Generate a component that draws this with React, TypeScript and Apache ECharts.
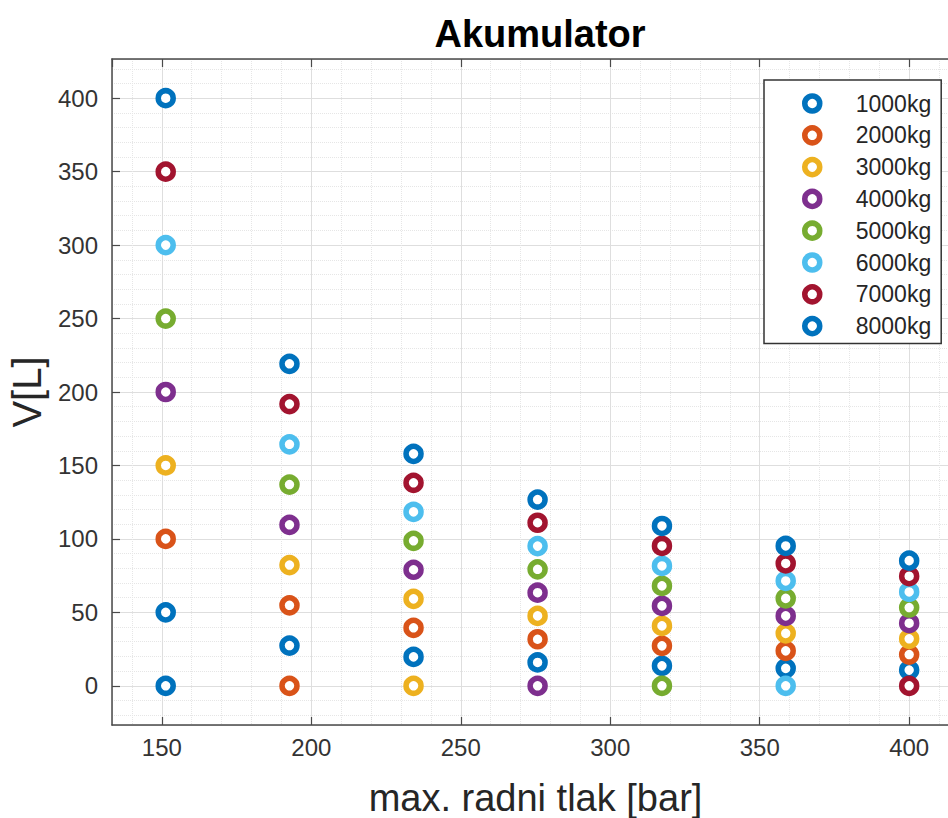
import React, { useEffect, useRef } from "react";
import * as echarts from "echarts";

const pressures = [151.3, 192.7, 234.2, 275.7, 317.3, 358.7, 400.0];
const seriesNames = ["1000kg", "2000kg", "3000kg", "4000kg", "5000kg", "6000kg", "7000kg", "8000kg"];
const v1000 = [50, 27.4, 19.7, 15.9, 13.6, 11.9, 10.7];
const v2000 = [100, 54.8, 39.5, 31.7, 27.2, 23.8, 21.3];
const v3000 = [150, 82.2, 59.2, 47.6, 40.8, 35.7, 32.0];
const v4000 = [200, 109.6, 79.0, 63.4, 54.4, 47.6, 42.6];
const v5000 = [250, 137.0, 98.7, 79.3, 68.0, 59.5, 53.3];
const v6000 = [300, 164.4, 118.4, 95.1, 81.6, 71.4, 63.9];
const v7000 = [350, 191.8, 138.2, 111.0, 95.2, 83.3, 74.6];
const v8000 = [400, 219.2, 157.9, 126.8, 108.8, 95.2, 85.2];
const seriesValues = [v1000, v2000, v3000, v4000, v5000, v6000, v7000, v8000];
// zero-volume point drawn by each series at this pressure index (-1 = none)
const zeroPointIndex = [0, 1, 2, 3, 4, 5, 6, -1];
const colors = ["#0072BD", "#D95319", "#EDB120", "#7E2F8E", "#77AC30", "#4DBEEE", "#A2142F", "#0072BD"];

const FONT = "'Liberation Sans', Arial, Helvetica, sans-serif";
const AXIS_COLOR = "#4a4a4a";
const RING = 5.5;

export default function App() {
  const ref = useRef<HTMLDivElement>(null);
  useEffect(() => {
    if (!ref.current) return;
    const chart = echarts.init(ref.current, undefined, { renderer: "svg" });
    const fmt = (v: number) => (Math.abs(v % 50) < 1e-6 ? String(Math.round(v)) : "");
    const xCommon = {
      type: "value" as const,
      min: 133.33,
      max: 416.67,
      splitNumber: 5,
      axisLine: { show: true, onZero: false, lineStyle: { color: AXIS_COLOR, width: 1.5 } },
      axisTick: { show: true, inside: true, length: 8, lineStyle: { color: AXIS_COLOR, width: 1.2 } },
      minorTick: { show: false, splitNumber: 5 },
    };
    const yCommon = {
      type: "value" as const,
      min: -26.67,
      max: 426.67,
      splitNumber: 9,
      axisLine: { show: true, onZero: false, lineStyle: { color: AXIS_COLOR, width: 1.5 } },
      axisTick: { show: true, inside: true, length: 8, lineStyle: { color: AXIS_COLOR, width: 1.2 } },
      minorTick: { show: false, splitNumber: 5 },
    };
    const series = seriesNames.map((name, i) => {
      const data: number[][] = pressures.map((p, j) => [p, seriesValues[i][j]]);
      if (zeroPointIndex[i] >= 0) data.unshift([pressures[zeroPointIndex[i]], 0]);
      return {
        name,
        type: "scatter" as const,
        symbol: "circle",
        symbolSize: 15,
        itemStyle: { color: "#ffffff", borderColor: colors[i], borderWidth: RING, opacity: 1 },
        data,
      };
    });
    chart.setOption({
      animation: false,
      backgroundColor: "#ffffff",
      textStyle: { fontFamily: FONT },
      title: {
        text: "Akumulator",
        left: 535,
        textAlign: "center",
        top: 10,
        textStyle: { fontFamily: FONT, fontWeight: "bold", fontSize: 38, color: "#000" },
      },
      grid: { left: 112, top: 59, width: 847, height: 666, containLabel: false, outerBoundsMode: "none" },
      legend: {
        orient: "vertical",
        left: 764,
        top: 80,
        itemHeight: 15,
        itemGap: 8.8,
        padding: [12, 10, 6, 38],
        backgroundColor: "#ffffff",
        borderColor: "#333",
        borderWidth: 1.5,
        borderRadius: 0,
        textStyle: { fontFamily: FONT, fontSize: 23, color: "#262626", padding: [0, 0, 0, 26] },
        data: seriesNames.map((name, i) => ({
          name,
          icon: "circle",
          itemStyle: { color: "#ffffff", borderColor: colors[i], borderWidth: RING },
        })),
      },
      xAxis: [
        {
          ...xCommon,
          position: "bottom",
          name: "max. radni tlak [bar]",
          nameLocation: "middle",
          nameGap: 54,
          nameTextStyle: { fontFamily: FONT, fontSize: 38, color: "#262626" },
          axisLabel: {
            show: true,
            formatter: fmt,
            margin: 10,
            fontFamily: FONT,
            fontSize: 24,
            color: "#333",
            showMinLabel: false,
            showMaxLabel: false,
          },
          splitLine: { show: true, lineStyle: { color: "#dedede", width: 1 } },
          minorSplitLine: { show: true, lineStyle: { color: "#e6e6e6", width: 1, type: "dotted" } },
        },
        {
          ...xCommon,
          position: "top",
          axisLabel: { show: false },
          splitLine: { show: false },
        },
      ],
      yAxis: [
        {
          ...yCommon,
          position: "left",
          name: "V[L]",
          nameLocation: "middle",
          nameGap: 62,
          nameRotate: 90,
          nameTextStyle: { fontFamily: FONT, fontSize: 40, color: "#262626" },
          axisLabel: {
            show: true,
            formatter: fmt,
            margin: 14,
            fontFamily: FONT,
            fontSize: 24,
            color: "#333",
            showMinLabel: false,
            showMaxLabel: false,
          },
          splitLine: { show: true, lineStyle: { color: "#dedede", width: 1 } },
          minorSplitLine: { show: true, lineStyle: { color: "#e6e6e6", width: 1, type: "dotted" } },
        },
        {
          ...yCommon,
          position: "right",
          axisLabel: { show: false },
          splitLine: { show: false },
        },
      ],
      series,
    });
    return () => chart.dispose();
  }, []);
  return (
    <div
      ref={ref}
      style={{ position: "fixed", left: 0, top: 0, width: 960, height: 818, background: "#fff" }}
    />
  );
}
